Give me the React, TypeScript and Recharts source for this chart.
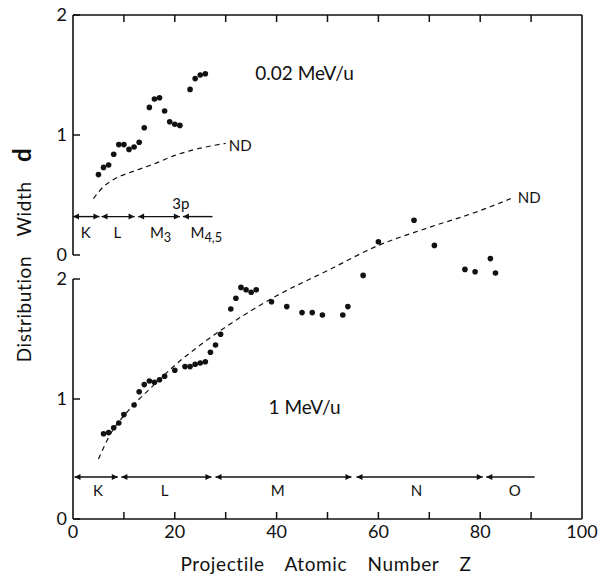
import {
  ComposedChart,
  XAxis,
  YAxis,
  Scatter,
  Line,
  ReferenceLine,
  ReferenceDot,
} from "recharts";

// upper panel, 0.02 MeV/u
const lowZ = [5, 6, 7, 8, 9, 10, 11, 12, 13, 14, 15, 16, 17, 18, 19, 20, 21, 23, 24, 25, 26];
const lowWidth = [
  0.67, 0.73, 0.75, 0.84, 0.92, 0.92, 0.88, 0.9, 0.94, 1.06, 1.23, 1.3, 1.31, 1.2, 1.11, 1.09,
  1.08, 1.38, 1.47, 1.5, 1.51,
];
const lowNdZ = [4, 6, 8, 12, 16, 20, 25, 30];
const lowNd = [0.47, 0.57, 0.63, 0.7, 0.76, 0.83, 0.89, 0.93];

// lower panel, 1 MeV/u
const highZ = [
  6, 7, 8, 9, 10, 12, 13, 14, 15, 16, 17, 18, 20, 22, 23, 24, 25, 26, 27, 28, 29, 31, 32, 33,
  34, 35, 36, 39, 42, 45, 47, 49, 53, 54, 57, 60, 67, 71, 77, 79, 82, 83,
];
const highWidth = [
  0.71, 0.72, 0.76, 0.8, 0.87, 0.95, 1.06, 1.12, 1.15, 1.14, 1.16, 1.19, 1.24, 1.27, 1.27, 1.29,
  1.3, 1.31, 1.39, 1.45, 1.54, 1.75, 1.84, 1.93, 1.91, 1.89, 1.91, 1.81, 1.77, 1.72, 1.72, 1.7,
  1.7, 1.77, 2.03, 2.31, 2.49, 2.28, 2.08, 2.06, 2.17, 2.05,
];
const highNdZ = [5, 7, 11, 15, 20, 25, 30, 40, 50, 60, 70, 80, 86];
const highNd = [0.5, 0.68, 0.91, 1.08, 1.28, 1.45, 1.6, 1.86, 2.07, 2.28, 2.43, 2.57, 2.67];

// shell ranges (Z) drawn as arrows
const lowShellName = ["K", "L", "M", "M"];
const lowShellSub = ["", "", "3", "4,5"];
const lowShellFrom = [0, 5.6, 12.8, 21.6];
const lowShellTo = [5.2, 12.1, 21, 27.4];
const lowShellLabelZ = [2.5, 8.7, 17.2, 26.2];
const lowShellBoth = [true, true, true, false];

const highShellName = ["K", "L", "M", "N", "O"];
const highShellFrom = [0.3, 9.5, 28, 55.7, 81.2];
const highShellTo = [8.8, 27.2, 54.7, 80.5, 90.7];
const highShellLabelZ = [4.9, 18, 40.2, 67.5, 86.8];
const highShellBoth = [true, true, true, true, false];

const X_MAX = 100;
const xTicks = [0, 10, 20, 30, 40, 50, 60, 70, 80, 90, 100];
const yTicks = [0, 1, 2];
const BOT_MAX = 4.2;
const TOP_MAX = 2;
const TOP_SHIFT = BOT_MAX - TOP_MAX;
const TICK = 7;

const lowPoints = lowZ.map((z, i) => ({ z, v: lowWidth[i] }));
const lowNdLine = lowNdZ.map((z, i) => ({ z, v: lowNd[i] }));
const highPoints = highZ.map((z, i) => ({ z, v: highWidth[i] }));
const highNdLine = highNdZ.map((z, i) => ({ z, v: highNd[i] }));

const FONT = "Lato, 'Open Sans', sans-serif";
const INK = "#111";

const Dot = (p: any) => <circle cx={p.cx} cy={p.cy} r={2.8} fill={INK} />;

// horizontal frame edge with inward ticks (dir: +1 down, -1 up)
const hFrame = (dir: number) => (p: any) => {
  const { x1, x2, y1 } = p;
  return (
    <g>
      <line x1={x1} x2={x2} y1={y1} y2={y1} stroke={INK} strokeWidth={1.6} />
      {xTicks.slice(1, -1).map((t) => {
        const x = x1 + ((x2 - x1) * t) / X_MAX;
        return <line key={t} x1={x} x2={x} y1={y1} y2={y1 + dir * TICK} stroke={INK} strokeWidth={1.5} />;
      })}
    </g>
  );
};

// left axis piece with inward ticks at 0,1,2
const vAxis = (p: any) => {
  const { x1, y1, y2 } = p;
  const last = yTicks[yTicks.length - 1];
  return (
    <g>
      <line x1={x1} x2={x1} y1={y1} y2={y2} stroke={INK} strokeWidth={1.6} />
      {yTicks.map((t) => {
        const y = y1 + ((y2 - y1) * t) / last;
        return <line key={t} x1={x1} x2={x1 + TICK} y1={y} y2={y} stroke={INK} strokeWidth={1.5} />;
      })}
    </g>
  );
};

const arrowShape = (both: boolean) => (p: any) => {
  const { x1, y1, x2, y2 } = p;
  const h = 6;
  const w = 3;
  return (
    <g>
      <line x1={x1} y1={y1} x2={x2} y2={y2} stroke={INK} strokeWidth={1.4} />
      <path d={`M${x1},${y1} L${x1 + h},${y1 - w} L${x1 + h},${y1 + w} Z`} fill={INK} />
      {both && <path d={`M${x2},${y2} L${x2 - h},${y2 - w} L${x2 - h},${y2 + w} Z`} fill={INK} />}
    </g>
  );
};

const textShape = (name: string, sub: string, size: number, anchor: string = "middle") => (p: any) => (
  <text
    x={p.cx}
    y={p.cy}
    textAnchor={anchor}
    dominantBaseline="central"
    fontFamily={FONT}
    fontSize={size}
    fill={INK}
  >
    {name}
    {sub && (
      <tspan fontSize={size * 0.85} dy={5}>
        {sub}
      </tspan>
    )}
  </text>
);

export default function App() {
  return (
    <div style={{ position: "absolute", left: 0, top: 0, background: "#fff" }}>
      <ComposedChart width={601} height={577} margin={{ top: 15, right: 19, bottom: 28, left: 13 }}>
        <XAxis
          xAxisId="b"
          dataKey="z"
          type="number"
          domain={[0, X_MAX]}
          ticks={xTicks}
          tickFormatter={(v: number) => (v % 20 === 0 ? String(v) : "")}
          height={30}
          tickSize={0}
          tickMargin={6}
          axisLine={false}
          tickLine={false}
          tick={{ fill: INK, fontSize: 18, fontFamily: FONT }}
          interval={0}
        />
        <YAxis
          yAxisId="bot"
          type="number"
          domain={[0, BOT_MAX]}
          allowDataOverflow
          ticks={[...yTicks, ...yTicks.map((t) => t + TOP_SHIFT)]}
          tickFormatter={(v: number) => String(Math.round(v >= TOP_SHIFT - 1e-6 ? v - TOP_SHIFT : v))}
          width={60}
          tickSize={0}
          tickMargin={6}
          axisLine={false}
          tickLine={false}
          tick={{ fill: INK, fontSize: 18, fontFamily: FONT }}
          interval={0}
        />
        <YAxis yAxisId="top" type="number" domain={[-TOP_SHIFT, TOP_MAX]} allowDataOverflow hide />

        {/* frame: bottom axis, top edge, right edge, broken left axis */}
        <ReferenceLine
          xAxisId="b"
          yAxisId="bot"
          segment={[{ x: 0, y: 0 }, { x: X_MAX, y: 0 }]}
          shape={hFrame(-1)}
          ifOverflow="visible"
        />
        <ReferenceLine
          xAxisId="b"
          yAxisId="bot"
          segment={[{ x: 0, y: BOT_MAX }, { x: X_MAX, y: BOT_MAX }]}
          shape={hFrame(1)}
          ifOverflow="visible"
        />
        <ReferenceLine xAxisId="b" yAxisId="bot" x={X_MAX} stroke={INK} strokeWidth={1.6} ifOverflow="visible" />
        <ReferenceLine
          xAxisId="b"
          yAxisId="bot"
          segment={[{ x: 0, y: 0 }, { x: 0, y: 2 }]}
          shape={vAxis}
          ifOverflow="visible"
        />
        <ReferenceLine
          xAxisId="b"
          yAxisId="top"
          segment={[{ x: 0, y: 0 }, { x: 0, y: TOP_MAX }]}
          shape={vAxis}
          ifOverflow="visible"
        />

        {/* shell arrows */}
        {lowShellName.map((n, i) => (
          <ReferenceLine
            key={"la" + i}
            xAxisId="b"
            yAxisId="top"
            segment={[{ x: lowShellFrom[i], y: 0.32 }, { x: lowShellTo[i], y: 0.32 }]}
            shape={arrowShape(lowShellBoth[i])}
          />
        ))}
        {lowShellName.map((n, i) => (
          <ReferenceDot
            key={"lt" + i}
            xAxisId="b"
            yAxisId="top"
            x={lowShellLabelZ[i]}
            y={0.19}
            shape={textShape(n, lowShellSub[i], 15)}
          />
        ))}
        <ReferenceDot xAxisId="b" yAxisId="top" x={21.2} y={0.43} shape={textShape("3p", "", 15)} />
        {highShellName.map((n, i) => (
          <ReferenceLine
            key={"ha" + i}
            xAxisId="b"
            yAxisId="bot"
            segment={[{ x: highShellFrom[i], y: 0.35 }, { x: highShellTo[i], y: 0.35 }]}
            shape={arrowShape(highShellBoth[i])}
          />
        ))}
        {highShellName.map((n, i) => (
          <ReferenceDot
            key={"ht" + i}
            xAxisId="b"
            yAxisId="bot"
            x={highShellLabelZ[i]}
            y={0.245}
            shape={textShape(n, "", 15)}
          />
        ))}

        {/* panel captions */}
        <ReferenceDot xAxisId="b" yAxisId="top" x={45.5} y={1.52} shape={textShape("0.02 MeV/u", "", 19)} />
        <ReferenceDot xAxisId="b" yAxisId="bot" x={45.5} y={0.94} shape={textShape("1 MeV/u", "", 19)} />
        <ReferenceDot xAxisId="b" yAxisId="top" x={30.6} y={0.92} shape={textShape("ND", "", 15, "start")} />
        <ReferenceDot xAxisId="b" yAxisId="bot" x={87.4} y={2.68} shape={textShape("ND", "", 15, "start")} />

        <Line
          xAxisId="b"
          yAxisId="top"
          data={lowNdLine}
          dataKey="v"
          type="monotone"
          stroke={INK}
          strokeWidth={1.2}
          strokeDasharray="5 4"
          dot={false}
          isAnimationActive={false}
        />
        <Line
          xAxisId="b"
          yAxisId="bot"
          data={highNdLine}
          dataKey="v"
          type="monotone"
          stroke={INK}
          strokeWidth={1.2}
          strokeDasharray="5 4"
          dot={false}
          isAnimationActive={false}
        />
        <Scatter
          xAxisId="b"
          yAxisId="top"
          data={lowPoints}
          dataKey="v"
          shape={Dot}
          isAnimationActive={false}
        />
        <Scatter
          xAxisId="b"
          yAxisId="bot"
          data={highPoints}
          dataKey="v"
          shape={Dot}
          isAnimationActive={false}
        />

        <text
          x={326}
          y={571}
          textAnchor="middle"
          fontFamily={FONT}
          fontSize={19}
          fill={INK}
          style={{ wordSpacing: 15, letterSpacing: 0.6 }}
        >
          Projectile Atomic Number Z
        </text>
        <text
          transform="translate(31,255) rotate(-90)"
          textAnchor="middle"
          fontFamily={FONT}
          fontSize={19}
          fill={INK}
          style={{ wordSpacing: 14, letterSpacing: 0.6 }}
        >
          Distribution Width <tspan fontSize={24} fontWeight="bold">d</tspan>
        </text>
      </ComposedChart>
    </div>
  );
}
